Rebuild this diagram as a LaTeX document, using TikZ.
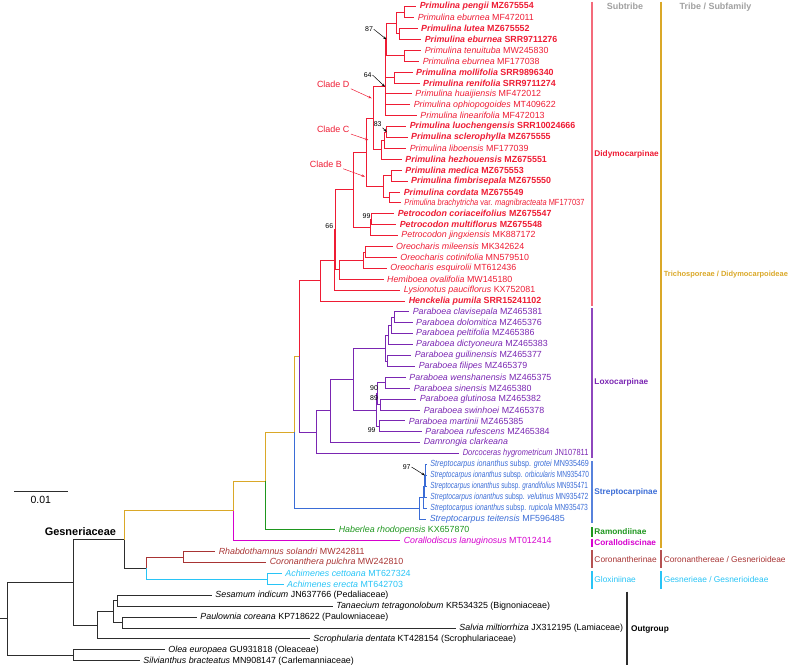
\documentclass[tikz,border=0pt]{standalone}
\usepackage{fontspec}
\usepackage{graphicx}
\setmainfont{Liberation Sans}
\usetikzlibrary{arrows.meta}
\definecolor{didy}{RGB}{238,28,52}
\definecolor{loxo}{RGB}{122,38,178}
\definecolor{strep}{RGB}{58,108,214}
\definecolor{ramo}{RGB}{30,150,30}
\definecolor{cora}{RGB}{214,0,206}
\definecolor{coro}{RGB}{168,52,52}
\definecolor{glox}{RGB}{40,196,246}
\definecolor{trib}{RGB}{218,168,40}
\definecolor{outg}{RGB}{45,45,45}
\definecolor{head}{RGB}{160,160,160}
\newcommand{\sq}[2]{\resizebox{#1bp}{\height}{#2}}
\begin{document}
\begin{tikzpicture}[x=1bp, y=-1bp, line width=0.9bp,
  leaf/.style={anchor=west, inner xsep=3bp, inner ysep=0.5bp, font=\fontsize{8.9}{10.5}\selectfont},
  key/.style={font=\fontsize{8.9}{10.5}\selectfont\bfseries},
  supp/.style={font=\fontsize{7}{8}\selectfont, inner sep=0.5bp},
  clade/.style={font=\fontsize{9}{10}\selectfont, text=didy, inner sep=1bp},
  subtr/.style={anchor=west, font=\fontsize{8.3}{10}\selectfont\bfseries, inner sep=0},
  tribe/.style={anchor=west, font=\fontsize{8.4}{10}\selectfont, inner sep=0},
  bar/.style={line width=1.6bp},
  pointer/.style={-{Stealth[length=3.5bp,width=2.5bp]}, line width=0.5bp}]
\useasboundingbox (0,0) rectangle (793,668);
% Didymocarpinae
\node[leaf, key, didy] (pengii) at (416.3,6.7) {\textit{Primulina pengii} MZ675554};
\node[leaf, didy] (eburA) at (414.3,17.6) {\textit{Primulina eburnea} MF472011};
\node[leaf, key, didy] (lutea) at (417.7,28.5) {\textit{Primulina lutea} MZ675552};
\node[leaf, key, didy] (eburB) at (421.3,39.4) {\textit{Primulina eburnea} SRR9711276};
\node[leaf, didy] (tenuituba) at (421.3,50.3) {\textit{Primulina tenuituba} MW245830};
\node[leaf, didy] (eburC) at (419.3,61.2) {\textit{Primulina eburnea} MF177038};
\node[leaf, key, didy] (mollifolia) at (412.7,72.1) {\textit{Primulina mollifolia} SRR9896340};
\node[leaf, key, didy] (renifolia) at (419.7,83.0) {\textit{Primulina renifolia} SRR9711274};
\node[leaf, didy] (huaijiensis) at (412,93.9) {\textit{Primulina huaijiensis} MF472012};
\node[leaf, didy] (ophiopogoides) at (410.3,104.8) {\textit{Primulina ophiopogoides} MT409622};
\node[leaf, didy] (linearifolia) at (417,115.7) {\textit{Primulina linearifolia} MF472013};
\node[leaf, key, didy] (luochengensis) at (406.3,126.6) {\textit{Primulina luochengensis} SRR10024666};
\node[leaf, key, didy] (sclerophylla) at (407.7,137.5) {\textit{Primulina sclerophylla} MZ675555};
\node[leaf, didy] (liboensis) at (406.3,148.4) {\textit{Primulina liboensis} MF177039};
\node[leaf, key, didy] (hezhouensis) at (402,159.3) {\textit{Primulina hezhouensis} MZ675551};
\node[leaf, key, didy] (medica) at (402,170.2) {\textit{Primulina medica} MZ675553};
\node[leaf, key, didy] (fimbrisepala) at (407.7,181.1) {\textit{Primulina fimbrisepala} MZ675550};
\node[leaf, key, didy] (cordata) at (400.3,192.0) {\textit{Primulina cordata} MZ675549};
\node[leaf, didy] (brachytricha) at (401,202.9) {\sq{180}{\textit{Primulina brachytricha} var. \textit{magnibracteata} MF177037}};
\node[leaf, key, didy] (coriaceifolius) at (394.3,213.8) {\textit{Petrocodon coriaceifolius} MZ675547};
\node[leaf, key, didy] (multiflorus) at (396.3,224.7) {\textit{Petrocodon multiflorus} MZ675548};
\node[leaf, didy] (jingxiensis) at (398,235.6) {\textit{Petrocodon jingxiensis} MK887172};
\node[leaf, didy] (mileensis) at (392.7,246.5) {\textit{Oreocharis mileensis} MK342624};
\node[leaf, didy] (cotinifolia) at (397,257.4) {\textit{Oreocharis cotinifolia} MN579510};
\node[leaf, didy] (esquirolii) at (387,268.3) {\textit{Oreocharis esquirolii} MT612436};
\node[leaf, didy] (ovalifolia) at (383.7,279.2) {\textit{Hemiboea ovalifolia} MW145180};
\node[leaf, didy] (pauciflorus) at (400.3,290.1) {\textit{Lysionotus pauciflorus} KX752081};
\node[leaf, key, didy] (pumila) at (405.3,301.0) {\textit{Henckelia pumila} SRR15241102};
% Loxocarpinae
\node[leaf, loxo] (clavisepala) at (409.3,311.9) {\textit{Paraboea clavisepala} MZ465381};
\node[leaf, loxo] (dolomitica) at (412.7,322.8) {\textit{Paraboea dolomitica} MZ465376};
\node[leaf, loxo] (peltifolia) at (412.7,333.7) {\textit{Paraboea peltifolia} MZ465386};
\node[leaf, loxo] (dictyoneura) at (412.7,344.6) {\textit{Paraboea dictyoneura} MZ465383};
\node[leaf, loxo] (guilinensis) at (411.3,355.5) {\textit{Paraboea guilinensis} MZ465377};
\node[leaf, loxo] (filipes) at (415.3,366.4) {\textit{Paraboea filipes} MZ465379};
\node[leaf, loxo] (wenshanensis) at (406,377.3) {\textit{Paraboea wenshanensis} MZ465375};
\node[leaf, loxo] (sinensis) at (410.3,388.2) {\textit{Paraboea sinensis} MZ465380};
\node[leaf, loxo] (glutinosa) at (416.3,399.1) {\textit{Paraboea glutinosa} MZ465382};
\node[leaf, loxo] (swinhoei) at (420.3,410.0) {\textit{Paraboea swinhoei} MZ465378};
\node[leaf, loxo] (martinii) at (405.3,420.9) {\textit{Paraboea martinii} MZ465385};
\node[leaf, loxo] (rufescens) at (422,431.8) {\textit{Paraboea rufescens} MZ465384};
\node[leaf, loxo] (clarkeana) at (420.3,442.7) {\textit{Damrongia clarkeana}};
\node[leaf, loxo] (hygrometricum) at (459.3,453.6) {\sq{125.7}{\textit{Dorcoceras hygrometricum} JN107811}};
% Streptocarpinae and the rest
\node[leaf, strep] (grotei) at (427,464.5) {\sq{158.5}{\textit{Streptocarpus ionanthus} subsp. \textit{grotei} MN935469}};
\node[leaf, strep] (orbicularis) at (427,475.4) {\sq{158.5}{\textit{Streptocarpus ionanthus} subsp. \textit{orbicularis} MN935470}};
\node[leaf, strep] (grandifolius) at (427,486.3) {\sq{157.5}{\textit{Streptocarpus ionanthus} subsp. \textit{grandifolius} MN935471}};
\node[leaf, strep] (velutinus) at (427,497.2) {\sq{158}{\textit{Streptocarpus ionanthus} subsp. \textit{velutinus} MN935472}};
\node[leaf, strep] (rupicola) at (427,508.1) {\sq{157.5}{\textit{Streptocarpus ionanthus} subsp. \textit{rupicola} MN935473}};
\node[leaf, strep] (teitensis) at (426.3,519.0) {\textit{Streptocarpus teitensis} MF596485};
\node[leaf, ramo] (rhodopensis) at (335.3,529.9) {\textit{Haberlea rhodopensis} KX657870};
\node[leaf, cora] (lanuginosus) at (400.3,540.8) {\textit{Corallodiscus lanuginosus} MT012414};
\node[leaf, coro] (solandri) at (215.3,551.7) {\textit{Rhabdothamnus solandri} MW242811};
\node[leaf, coro] (pulchra) at (266.3,562.6) {\textit{Coronanthera pulchra} MW242810};
\node[leaf, glox] (cettoana) at (282,573.5) {\textit{Achimenes cettoana} MT627324};
\node[leaf, glox] (erecta) at (283.7,584.4) {\textit{Achimenes erecta} MT642703};
% Outgroup
\node[leaf] (indicum) at (212,595.3) {\textit{Sesamum indicum} JN637766 (Pedaliaceae)};
\node[leaf] (tetragonolobum) at (333,606.2) {\textit{Tanaecium tetragonolobum} KR534325 (Bignoniaceae)};
\node[leaf] (coreana) at (197,617.1) {\textit{Paulownia coreana} KP718622 (Paulowniaceae)};
\node[leaf] (miltiorrhiza) at (456,628.0) {\textit{Salvia miltiorrhiza} JX312195 (Lamiaceae)};
\node[leaf] (dentata) at (310,638.9) {\textit{Scrophularia dentata} KT428154 (Scrophulariaceae)};
\node[leaf] (europaea) at (165,649.8) {\textit{Olea europaea} GU931818 (Oleaceae)};
\node[leaf] (bracteatus) at (140,660.7) {\textit{Silvianthus bracteatus} MN908147 (Carlemanniaceae)};

% internal nodes
\coordinate (rootstub) at (0,618.9);
\coordinate (root) at (7.9,618.9);
\coordinate (lamiales) at (73,582.5);
\coordinate (oleales) at (73,655.25);
\coordinate (lamrest) at (97.5,625.4);
\coordinate (sesapaul) at (113,611.65);
\coordinate (sesatana) at (117.6,600.75);
\coordinate (paulsalv) at (122.6,622.55);
\coordinate (gesner) at (124,539.7);
\coordinate (gesneroid) at (146,568.1);
\coordinate (coronan) at (183,557.15);
\coordinate (gloxin) at (267,578.95);
\coordinate (didymoid) at (233.3,510.9);
\coordinate (ramond) at (265,481);
\coordinate (strepdidy) at (294,432.2);
\coordinate (didyloxo) at (299.3,356.35);
\coordinate (didycrown) at (320,280.5);
\coordinate (lysio) at (334.3,259.95);
\coordinate (nsixsix) at (335.8,229.8);
\coordinate (oreohemi) at (339.3,269.65);
\coordinate (oreo) at (363.3,260.1);
\coordinate (oreomc) at (365,251.95);
\coordinate (primpetro) at (353.3,189.9);
\coordinate (petro) at (370,227.4);
\coordinate (petrocm) at (371.7,219.25);
\coordinate (cladeB) at (366.7,152.4);
\coordinate (medgrp) at (383.5,186.55);
\coordinate (medfim) at (391,175.65);
\coordinate (corbra) at (389,197.45);
\coordinate (cladeC) at (373.3,118.2);
\coordinate (hezgrp) at (381.7,149.75);
\coordinate (libgrp) at (384,140.2);
\coordinate (luoscl) at (386.7,132.05);
\coordinate (cladeD) at (385,86.7);
\coordinate (neightseven) at (386.5,39.4);
\coordinate (pelu) at (396.7,23.05);
\coordinate (pengeb) at (404,12.15);
\coordinate (luteb) at (399,33.95);
\coordinate (teneb) at (404,55.75);
\coordinate (molren) at (394.3,77.55);
\coordinate (loxocrown) at (316.7,432.2);
\coordinate (damrong) at (330,410.85);
\coordinate (parab) at (353.3,379);
\coordinate (parup) at (385,348);
\coordinate (cdpd) at (388,335.05);
\coordinate (cdp) at (391,325.5);
\coordinate (cladol) at (394,317.35);
\coordinate (guifil) at (387.3,360.95);
\coordinate (parlow) at (376.7,410);
\coordinate (wsgs) at (377.3,393.65);
\coordinate (wensin) at (385,382.75);
\coordinate (gluswi) at (380,404.55);
\coordinate (marruf) at (379.3,426.35);
\coordinate (strepcrown) at (419,508.1);
\coordinate (ionC) at (423.6,497.2);
\coordinate (ionB) at (424.3,486.3);
\coordinate (ionA) at (425,475.4);

% branches
\draw[outg] (rootstub) -- (root) (root) |- (lamiales) (root) |- (oleales)
  (oleales) |- (europaea.west) (oleales) |- (bracteatus.west)
  (lamiales) |- (lamrest) (lamiales) |- (gesner)
  (lamrest) |- (sesapaul) (lamrest) |- (dentata.west)
  (sesapaul) |- (sesatana) (sesapaul) |- (paulsalv)
  (sesatana) |- (indicum.west) (sesatana) |- (tetragonolobum.west)
  (paulsalv) |- (coreana.west) (paulsalv) |- (miltiorrhiza.west)
  (gesner) |- (gesneroid);
\draw[coro] (gesneroid) |- (coronan) (coronan) |- (solandri.west) (coronan) |- (pulchra.west);
\draw[glox] (gesneroid) |- (gloxin) (gloxin) |- (cettoana.west) (gloxin) |- (erecta.west);
\draw[trib] (gesner) |- (didymoid) (didymoid) |- (ramond) (ramond) |- (strepdidy) (strepdidy) |- (didyloxo);
\draw[cora] (didymoid) |- (lanuginosus.west);
\draw[ramo] (ramond) |- (rhodopensis.west);
\draw[strep] (strepdidy) |- (strepcrown) (strepcrown) |- (ionC) (strepcrown) |- (teitensis.west)
  (ionC) |- (ionB) (ionC) |- (rupicola.west) (ionB) |- (ionA) (ionB) |- (velutinus.west)
  (ionA) |- (grotei.west) (ionA) |- (orbicularis.west) (ionA) |- (grandifolius.west);
\draw[didy] (didyloxo) |- (didycrown) (didycrown) |- (lysio) (didycrown) |- (pumila.west)
  (lysio) |- (nsixsix) (lysio) |- (pauciflorus.west)
  (nsixsix) |- (primpetro) (nsixsix) |- (oreohemi)
  (oreohemi) |- (oreo) (oreohemi) |- (ovalifolia.west)
  (oreo) |- (oreomc) (oreo) |- (esquirolii.west)
  (oreomc) |- (mileensis.west) (oreomc) |- (cotinifolia.west)
  (primpetro) |- (cladeB) (primpetro) |- (petro)
  (petro) |- (petrocm) (petro) |- (jingxiensis.west)
  (petrocm) |- (coriaceifolius.west) (petrocm) |- (multiflorus.west)
  (cladeB) |- (cladeC) (cladeB) |- (medgrp)
  (medgrp) |- (medfim) (medgrp) |- (corbra)
  (medfim) |- (medica.west) (medfim) |- (fimbrisepala.west)
  (corbra) |- (cordata.west) (corbra) |- (brachytricha.west)
  (cladeC) |- (cladeD) (cladeC) |- (hezgrp)
  (hezgrp) |- (libgrp) (hezgrp) |- (hezhouensis.west)
  (libgrp) |- (luoscl) (libgrp) |- (liboensis.west)
  (luoscl) |- (luochengensis.west) (luoscl) |- (sclerophylla.west)
  (cladeD) |- (neightseven) (cladeD) |- (molren) (cladeD) |- (huaijiensis.west)
  (cladeD) |- (ophiopogoides.west) (cladeD) |- (linearifolia.west)
  (neightseven) |- (pelu) (neightseven) |- (teneb)
  (pelu) |- (pengeb) (pelu) |- (luteb)
  (pengeb) |- (pengii.west) (pengeb) |- (eburA.west)
  (luteb) |- (lutea.west) (luteb) |- (eburB.west)
  (teneb) |- (tenuituba.west) (teneb) |- (eburC.west)
  (molren) |- (mollifolia.west) (molren) |- (renifolia.west);
\draw[loxo] (didyloxo) |- (loxocrown) (loxocrown) |- (damrong) (loxocrown) |- (hygrometricum.west)
  (damrong) |- (parab) (damrong) |- (clarkeana.west)
  (parab) |- (parup) (parab) |- (parlow)
  (parup) |- (cdpd) (parup) |- (guifil)
  (cdpd) |- (cdp) (cdpd) |- (dictyoneura.west)
  (cdp) |- (cladol) (cdp) |- (peltifolia.west)
  (cladol) |- (clavisepala.west) (cladol) |- (dolomitica.west)
  (guifil) |- (guilinensis.west) (guifil) |- (filipes.west)
  (parlow) |- (wsgs) (parlow) |- (marruf)
  (wsgs) |- (wensin) (wsgs) |- (gluswi)
  (wensin) |- (wenshanensis.west) (wensin) |- (sinensis.west)
  (gluswi) |- (glutinosa.west) (gluswi) |- (swinhoei.west)
  (marruf) |- (martinii.west) (marruf) |- (rufescens.west);

% support values
\node[supp] (sa) at (369,29.3) {87};
\node[supp] (sb) at (367.7,75) {64};
\node[supp] (sc) at (377.7,124.3) {83};
\node[supp] (sd) at (366.5,216.3) {99};
\node[supp] (se) at (329.3,226) {66};
\node[supp] (sf) at (374,387.7) {90};
\node[supp] (sg) at (374,398.3) {89};
\node[supp] (sh) at (371.7,430) {99};
\node[supp] (si) at (406.7,467) {97};
\draw[pointer] (sa.east) -- (neightseven);
\draw[pointer] (sb.east) -- (cladeD);
\draw[pointer] (sc.south east) -- (luoscl);
\draw[pointer] (si.east) -- (ionA);

% clade labels
\node[clade] (labD) at (333.2,84) {Clade D};
\node[clade] (labC) at (333.2,129.3) {Clade C};
\node[clade] (labB) at (325.8,164) {Clade B};
\coordinate (tipD) at (371.7,98.3);
\coordinate (tipC) at (368.3,140);
\coordinate (tipB) at (365,176.7);
\draw[pointer, didy] (labD.south east) -- (tipD);
\draw[pointer, didy] (labC.south east) -- (tipC);
\draw[pointer, didy] (labB.south east) -- (tipB);

% family label and scale
\node[anchor=west, font=\fontsize{11}{12}\selectfont\bfseries, inner sep=0] (fam) at (44.3,531.7) {Gesneriaceae};
\coordinate (scaleA) at (14,491.7);
\coordinate (scaleB) at (67.7,491.7);
\draw[outg] (scaleA) -- (scaleB);
\node[font=\fontsize{10.5}{11}\selectfont, inner sep=0] (scalelab) at (40.8,500) {0.01};

% classification bars
\node[font=\fontsize{9}{10}\selectfont\bfseries, text=head] (hsub) at (625,6.7) {Subtribe};
\node[font=\fontsize{9}{10}\selectfont\bfseries, text=head] (htri) at (715.5,6.7) {Tribe / Subfamily};
\draw[bar, didy!65] (591.7,1.7) -- (591.7,305.7);
\draw[bar, loxo!85] (591.7,308) -- (591.7,458);
\draw[bar, strep!85] (591.7,461) -- (591.7,523);
\draw[bar, ramo] (591.7,527) -- (591.7,537);
\draw[bar, cora] (591.7,538.5) -- (591.7,547);
\draw[bar, coro!85] (591.7,550) -- (591.7,568);
\draw[bar, glox] (591.7,571) -- (591.7,589);
\draw[bar, trib] (660.7,1.7) -- (660.7,548);
\draw[bar, coro!85] (660.7,550) -- (660.7,568);
\draw[bar, glox] (660.7,571) -- (660.7,589);
\draw[bar, outg] (627,591.7) -- (627,665);
\node[subtr, didy] (didymocarpinae) at (594,154) {Didymocarpinae};
\node[subtr, loxo] (loxocarpinae) at (594,382.7) {Loxocarpinae};
\node[subtr, strep] (streptocarpinae) at (594,492) {Streptocarpinae};
\node[subtr, ramo] (ramondiinae) at (594,531.5) {Ramondiinae};
\node[subtr, cora] (corallodiscinae) at (594,542.7) {Corallodiscinae};
\node[tribe, coro] (coronantherinae) at (594,559.7) {Coronantherinae};
\node[tribe, glox] (gloxiniinae) at (594,579.7) {Gloxiniinae};
\node[tribe, trib, font=\fontsize{7.5}{9}\selectfont\bfseries] (trichosporeae) at (663.3,275) {Trichosporeae / Didymocarpoideae};
\node[tribe, coro] (coronanthereae) at (663.3,559.7) {Coronanthereae / Gesnerioideae};
\node[tribe, glox] (gesnerieae) at (663.3,579.7) {Gesnerieae / Gesnerioideae};
\node[subtr] (outgroup) at (630.7,629) {Outgroup};
\end{tikzpicture}
\end{document}
